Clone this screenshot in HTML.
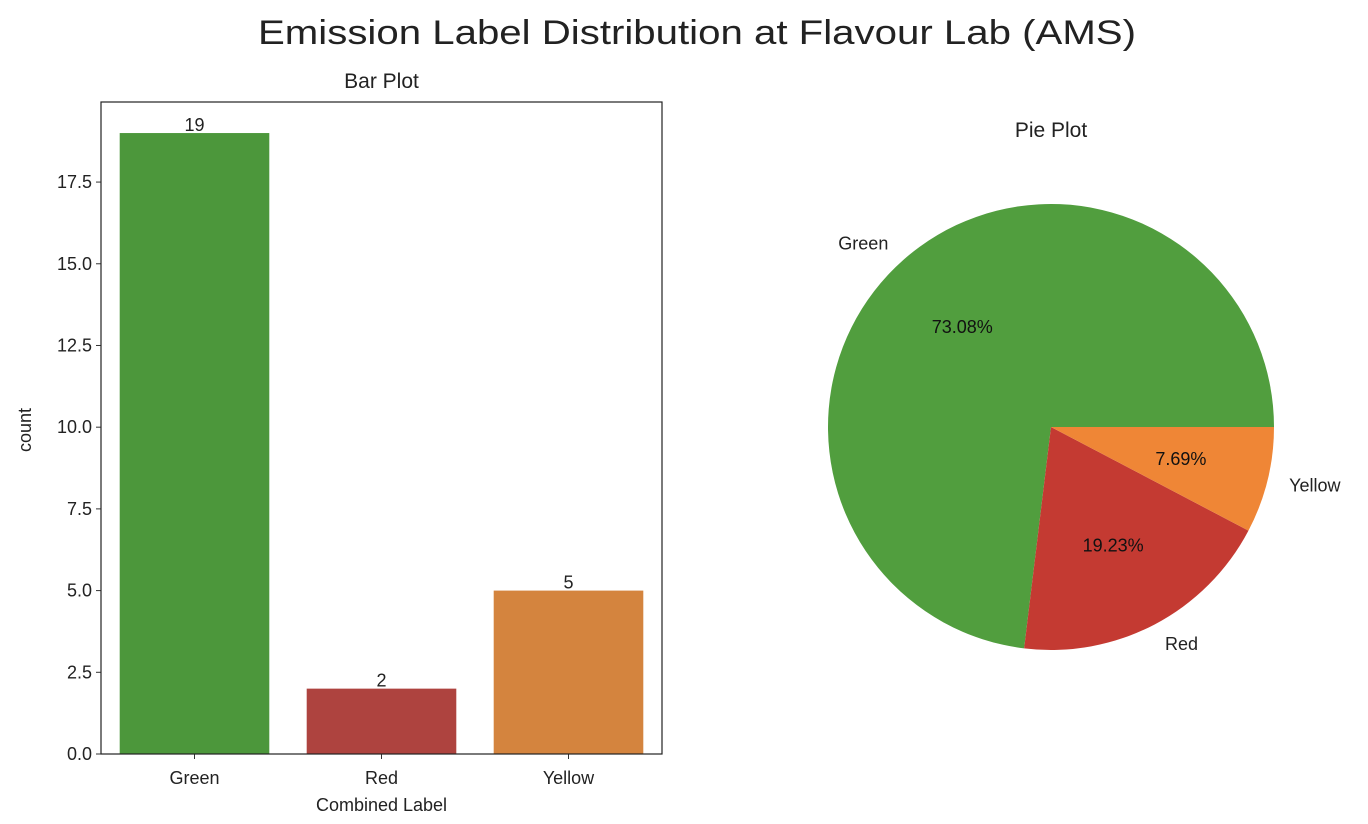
<!DOCTYPE html>
<html><head><meta charset="utf-8"><style>
body{margin:0;background:#fff;}
svg{display:block;font-family:"Liberation Sans","DejaVu Sans",sans-serif;}
</style></head><body>
<svg id="c" width="1368" height="824" xmlns="http://www.w3.org/2000/svg">
<text x="258" y="44" font-size="34" textLength="878" lengthAdjust="spacingAndGlyphs" fill="#222">Emission Label Distribution at Flavour Lab (AMS)</text>
<g id="bar"></g>
<g id="pie"></g>
</svg>
<script>
const categories=["Green","Red","Yellow"];
const barCounts=[19,2,5];
const yTicks=[0,2.5,5,7.5,10,12.5,15,17.5];
const pieLabels=["Green","Red","Yellow"];
const pieValues=[19,5,2];
const barColors=["#4c973b","#ae433f","#d4843e"];
const pieColors=["#519e3e","#c43a32","#ef8636"];
const NS="http://www.w3.org/2000/svg";
function mk(p,t,a,txt){const e=document.createElementNS(NS,t);for(const k in a)e.setAttribute(k,a[k]);if(txt!==undefined)e.textContent=txt;p.appendChild(e);return e;}
const bg=document.getElementById('bar');
const L=101,R=662,T=102,B=754;
const ymax=Math.max(...barCounts)*1.05;
const y=v=>B-(v/ymax)*(B-T);
const bw=(R-L)/categories.length;
const x=i=>L+bw*(i+0.5);
categories.forEach((c,i)=>{
 const r=mk(bg,'rect',{x:x(i)-bw*0.4,y:y(barCounts[i]),width:bw*0.8,height:B-y(barCounts[i]),fill:barColors[i]});
 
 
 const t=mk(bg,'text',{x:x(i),y:y(barCounts[i])-2,'font-size':18,'text-anchor':'middle',fill:'#222'},barCounts[i]);
 
 
 const tk=mk(bg,'line',{x1:x(i),x2:x(i),y1:B,y2:B+5,stroke:'#333'});
 
 
 const tl=mk(bg,'text',{x:x(i),y:B+30,'font-size':18,'text-anchor':'middle',fill:'#222'},c);
 
 
});
yTicks.forEach(v=>{
 const tk=mk(bg,'line',{x1:L-5,x2:L,y1:y(v),y2:y(v),stroke:'#333'});
 
 
 const tl=mk(bg,'text',{x:L-9,y:y(v)+6,'font-size':18,'text-anchor':'end',fill:'#222'},v.toFixed(1));
 
 
});
const fr=mk(bg,'rect',{x:L,y:T,width:R-L,height:B-T,fill:'none',stroke:'#222','stroke-width':1.2});


const bt=mk(bg,'text',{x:(L+R)/2,y:T-14,'font-size':21,'text-anchor':'middle',fill:'#222'},'Bar Plot');


const xt=mk(bg,'text',{x:(L+R)/2,y:811,'font-size':18,'text-anchor':'middle',fill:'#222'},'Combined Label');


const yt=mk(bg,'text',{x:0,y:0,'font-size':18,'text-anchor':'middle',fill:'#222',transform:'translate(31,430) rotate(-90)'},'count');



const pg=document.getElementById('pie');
const cx=1051,cy=427,rad=223;
const tot=pieValues.reduce((a,b)=>a+b,0);
let a0=0;
const pt=(a,r)=>[cx+r*Math.cos(a*Math.PI/180),cy-r*Math.sin(a*Math.PI/180)];
pieValues.forEach((v,i)=>{
 const a1=a0+v/tot*360;
 const [x0,y0]=pt(a0,rad),[x1,y1]=pt(a1,rad);
 const p=mk(pg,'path',{d:`M${cx},${cy}L${x0},${y0}A${rad},${rad} 0 ${a1-a0>180?1:0} 0 ${x1},${y1}Z`,fill:pieColors[i]});
 
 
 const m=(a0+a1)/2;
 const [lx,ly]=pt(m,rad*1.1);
 const c=Math.cos(m*Math.PI/180);
 const lt=mk(pg,'text',{x:lx,y:ly+6,'font-size':18,'text-anchor':c>0.05?'start':(c<-0.05?'end':'middle'),fill:'#222'},pieLabels[i]);
 
 
 const [px,py]=pt(m,rad*0.6);
 const pp=mk(pg,'text',{x:px,y:py+6,'font-size':18,'text-anchor':'middle',fill:'#111'},(v/tot*100).toFixed(2)+'%');
 
 
 a0=a1;
});
const pt2=mk(pg,'text',{x:cx,y:137,'font-size':21,'text-anchor':'middle',fill:'#222'},'Pie Plot');


</script>
</body></html>
